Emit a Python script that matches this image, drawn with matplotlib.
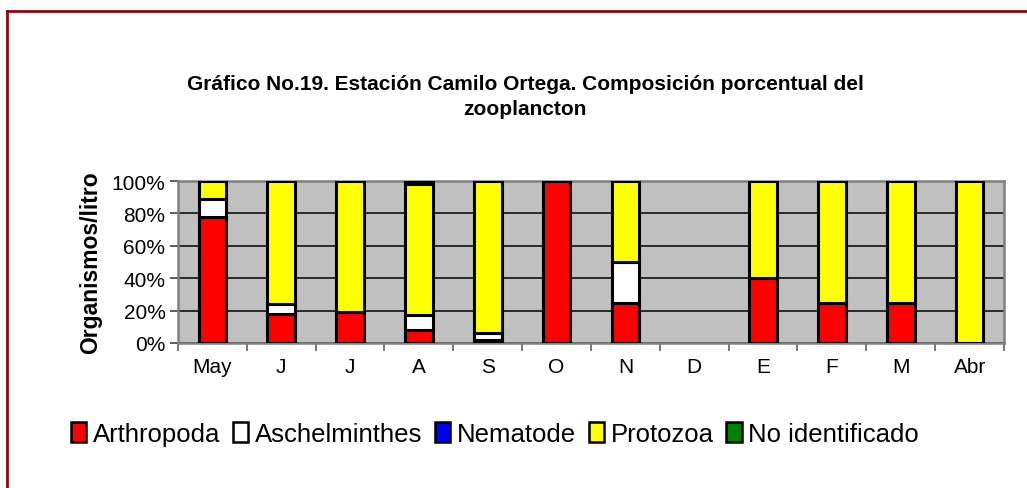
import numpy as np
import matplotlib.pyplot as plt
from matplotlib.lines import Line2D
from matplotlib.patches import Patch
from matplotlib.ticker import PercentFormatter

plt.rcParams['font.family'] = ['Liberation Sans', 'DejaVu Sans']

# data (percent of organisms per month)
months = ['May', 'J', 'J', 'A', 'S', 'O', 'N', 'D', 'E', 'F', 'M', 'Abr']
arthropoda = [78, 18, 19, 8, 2, 100, 25, 0, 40, 25, 25, 0]
aschelminthes = [11, 6, 0, 9, 4, 0, 25, 0, 0, 0, 0, 0]
nematode = [0, 0, 0, 0, 0, 0, 0, 0, 0, 0, 0, 0]
protozoa = [11, 76, 81, 81, 94, 0, 50, 0, 60, 75, 75, 100]
no_identificado = [0, 0, 0, 2, 0, 0, 0, 0, 0, 0, 0, 0]

series = {
    'Arthropoda': (arthropoda, '#FF0000'),
    'Aschelminthes': (aschelminthes, '#FFFFFF'),
    'Nematode': (nematode, '#0000FF'),
    'Protozoa': (protozoa, '#FFFF00'),
    'No identificado': (no_identificado, '#008000'),
}

W, H = 1027, 489
fig = plt.figure(figsize=(W / 100, H / 100), dpi=100)
ax = fig.add_axes([178 / W, 1 - 344 / H, 826 / W, 162 / H])
ax.set_facecolor('#C0C0C0')

x = np.arange(len(months))
bottom = np.zeros(len(months))
handles = []
for name, (vals, col) in series.items():
    vals = np.array(vals, dtype=float)
    lw = [2.2 if v > 0 else 0 for v in vals]
    ax.bar(x, vals, 0.4, bottom=bottom, color=col, edgecolor='black',
           linewidth=lw, zorder=3)
    bottom += vals
    handles.append(Patch(facecolor=col, edgecolor='black', linewidth=1.8))

ax.set_xlim(-0.5, len(months) - 0.5)
ax.set_ylim(0, 100)
ax.set_yticks(np.arange(0, 101, 20))
ax.yaxis.set_major_formatter(PercentFormatter(decimals=0))
ax.grid(axis='y', color='#2a2a2a', linewidth=1.4, zorder=1)
ax.set_xticks(x)
ax.set_xticklabels(months)
ax.set_xticks(np.arange(-0.5, len(months), 1), minor=True)
ax.tick_params(axis='x', which='major', length=0, pad=10, labelsize=15)
ax.tick_params(axis='x', which='minor', length=6, width=1.2, color='#606060')
ax.tick_params(axis='y', length=6, width=1.2, color='#404040', labelsize=15, pad=3)
for s in ax.spines.values():
    s.set_color('#808080')
    s.set_linewidth(1.8)

ax.set_ylabel('Organismos/litro', fontsize=16.5, fontweight='bold', labelpad=7)

fig.text(525 / W, 1 - 97 / H,
         'Gráfico No.19. Estación Camilo Ortega. Composición porcentual del\nzooplancton',
         ha='center', va='center', fontsize=15, fontweight='bold', linespacing=1.4)

fig.legend(handles, list(series.keys()), loc='center left',
           bbox_to_anchor=(58 / W, 1 - 435 / H), ncol=5, frameon=False,
           fontsize=18.5, handlelength=0.6, handleheight=0.8,
           handletextpad=0.25, columnspacing=0.5, borderpad=0)

# outer border (dark red, runs past the right and bottom edges)
fig.add_artist(Line2D([7 / W, 7 / W], [0, 1 - 12 / H], color='#8B0A0A',
                      linewidth=2, transform=fig.transFigure))
fig.add_artist(Line2D([7 / W, 1], [1 - 12 / H, 1 - 12 / H], color='#8B0A0A',
                      linewidth=2, transform=fig.transFigure))

fig.savefig('out.png', dpi=100)
